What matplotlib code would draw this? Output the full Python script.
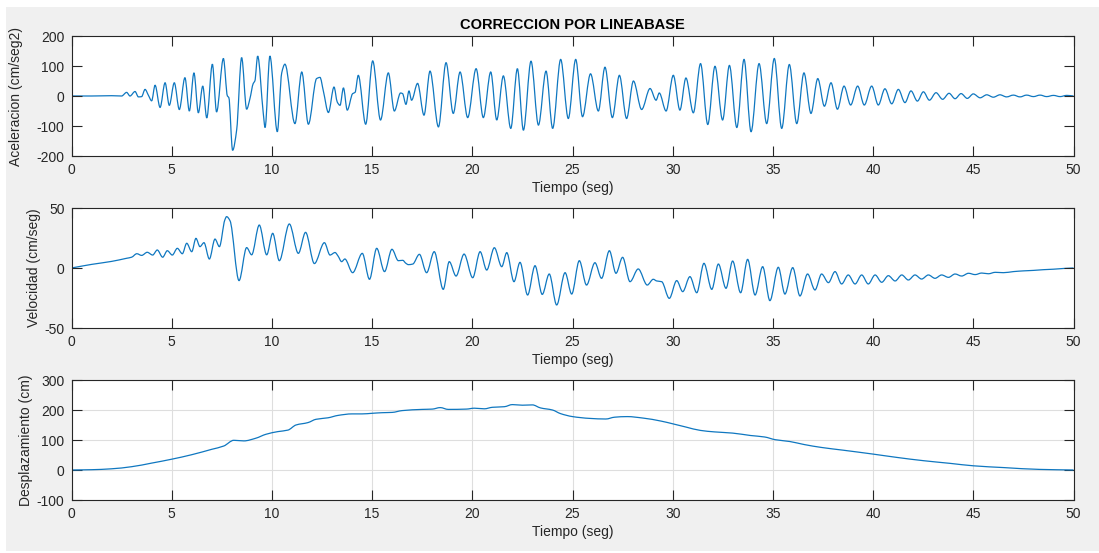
import numpy as np
import matplotlib.pyplot as plt
from matplotlib.patches import Rectangle, PathPatch
from matplotlib.path import Path

# (tiempo [s], aceleracion [cm/s2]) - picos y valles del registro corregido
acc_pts = [
    (0.0, 0), (1.0, 0), (2.0, 1), (2.5, 0), (2.75, 12), (2.92, 0), (3.17, 15), (3.34, -3),
    (3.5, -2), (3.67, 22), (3.84, 2), (4.0, -16), (4.17, 36), (4.42, -38), (4.67, 44),
    (4.88, -31), (5.13, 44), (5.38, -45), (5.66, 61), (5.88, -50), (6.11, 77), (6.33, -56),
    (6.55, 33), (6.75, -73), (7.03, 106), (7.24, -53), (7.58, 125), (7.78, 0), (7.85, -5),
    (8.04, -181), (8.24, -114), (8.49, 128), (8.74, -44), (8.9, -10), (9.07, 42), (9.15, 50),
    (9.29, 133), (9.57, -58), (9.66, -105), (9.9, 133), (10.27, -119), (10.49, 77),
    (10.65, 106), (11.15, -92), (11.49, 80), (11.82, -94), (12.23, 58), (12.4, 62),
    (12.57, 16), (12.82, -55), (13.1, 30), (13.26, -20), (13.4, -31), (13.57, 27),
    (13.76, -47), (14.03, 8), (14.15, 12), (14.31, 69), (14.68, -94), (15.03, 117),
    (15.42, -80), (15.81, 77), (16.11, -50), (16.42, 10), (16.52, 8), (16.69, -28),
    (16.84, 17), (16.97, -14), (17.27, 42), (17.59, -64), (17.89, 83), (18.31, -103),
    (18.69, 111), (19.05, -58), (19.39, 80), (19.77, -72), (20.19, 91), (20.55, -72),
    (20.92, 80), (21.22, -80), (21.55, 67), (21.92, -108), (22.25, 91), (22.55, -114),
    (22.93, 116), (23.3, -97), (23.68, 83), (24.01, -108), (24.41, 122), (24.79, -75),
    (25.16, 122), (25.5, -69), (25.9, 74), (26.29, -50), (26.62, 96), (26.99, -72),
    (27.34, 69), (27.7, -75), (28.04, 50), (28.45, -45), (28.87, 25), (29.17, -14),
    (29.33, 10), (29.67, -50), (30.03, 69), (30.36, -47), (30.66, 60), (31.03, -56),
    (31.39, 108), (31.75, -95), (32.11, 99), (32.49, -80), (32.83, 102), (33.2, -105),
    (33.56, 122), (33.91, -119), (34.31, 108), (34.69, -92), (35.07, 125), (35.44, -108),
    (35.82, 105), (36.19, -92), (36.55, 77), (36.9, -58), (37.24, 58), (37.57, -34),
    (37.9, 44), (38.22, -44), (38.55, 33), (38.88, -30), (39.23, 33), (39.56, -30),
    (39.93, 33), (40.26, -30), (40.59, 24), (40.93, -26), (41.26, 22), (41.59, -22),
    (41.89, 17), (42.21, -17), (42.51, 14), (42.81, -14), (43.14, 11), (43.47, -11),
    (43.79, 9), (44.09, -9), (44.39, 8), (44.7, -8), (45.0, 7), (45.34, -6), (45.67, 4),
    (46.0, -4), (46.33, 4), (46.66, -3), (47.0, 3), (47.33, -3), (47.66, 3), (48.0, -2),
    (48.33, 3), (48.66, -2), (49.0, 2), (49.33, -2), (49.66, 2), (50.0, 0),
]

# (tiempo [s], velocidad [cm/s])
vel_pts = [
    (0.0, 0), (1.0, 3), (2.0, 5.5), (2.75, 8.1), (3.0, 9), (3.26, 11.9), (3.5, 10.5),
    (3.78, 13.1), (4.05, 10.8), (4.28, 15), (4.55, 9), (4.78, 14.4), (5.03, 10.8),
    (5.28, 16.4), (5.53, 11.9), (5.75, 20.6), (6.0, 13.6), (6.21, 24.7), (6.41, 17.8),
    (6.61, 21.1), (6.88, 7.5), (7.16, 24.1), (7.38, 17.8), (7.65, 40), (7.74, 42.8),
    (7.91, 39.4), (8.36, -10.5), (8.74, 17), (8.99, 11), (9.37, 35.8), (9.74, 11),
    (10.04, 28.9), (10.37, 6.1), (10.87, 36.7), (11.32, 12.2), (11.68, 29.7), (12.12, 3.7),
    (12.62, 21.1), (12.9, 10.8), (13.15, 12.9), (13.3, 10), (13.48, 5.3), (13.64, 7.5),
    (14.03, -3.9), (14.51, 12.2), (14.87, -9.4), (15.23, 16.4), (15.62, -3), (15.99, 15.6),
    (16.31, 6.1), (16.53, 6.4), (16.68, 4), (16.81, 2.8), (17.03, 3.3), (17.36, 11.4),
    (17.72, -3.9), (18.1, 13.6), (18.55, -17.8), (18.85, 5.3), (19.19, -6.7), (19.59, 11.6),
    (20.02, -8.1), (20.39, 13.6), (20.72, -1.7), (21.1, 16.9), (21.47, 1.1), (21.72, 12.8),
    (22.08, -11.4), (22.38, 4.7), (22.76, -22.5), (23.13, 1.9), (23.49, -22), (23.84, -5),
    (24.21, -30.8), (24.63, -3.9), (24.96, -21.7), (25.34, 6.1), (25.7, -14.2),
    (26.12, 4.4), (26.45, -8.6), (26.84, 14.4), (27.17, -4.4), (27.5, 8.9), (27.87, -11.4),
    (28.28, -0.8), (28.73, -14.2), (29.03, -9.4), (29.2, -10.8), (29.45, -11.4),
    (29.83, -25.3), (30.2, -10.5), (30.5, -19.7), (30.86, -7.2), (31.2, -20.6), (31.56, 3.9),
    (31.95, -17.8), (32.28, 3.3), (32.66, -16.9), (32.99, 5.8), (33.39, -20.6), (33.74, 7.2),
    (34.11, -22.5), (34.49, 1.1), (34.85, -27.2), (35.27, 0.6), (35.6, -21.7), (35.99, 0.3),
    (36.35, -23.3), (36.73, -5.0), (37.1, -18.3), (37.43, -5), (37.77, -12.2), (38.1, -3),
    (38.43, -13.3), (38.76, -5.8), (39.1, -13.3), (39.43, -5.8), (39.76, -13.3),
    (40.1, -5.8), (40.43, -11.9), (40.76, -6.4), (41.1, -10.8), (41.43, -5.8), (41.76, -10),
    (42.09, -5.8), (42.42, -9.2), (42.76, -5.8), (43.09, -8.6), (43.42, -5.8), (43.76, -7.8),
    (44.09, -5), (44.42, -6.7), (44.76, -4.4), (45.09, -5.5), (45.42, -4.2), (45.75, -4.8),
    (46.1, -3.6), (46.5, -3.9), (47.0, -3.0), (47.5, -2.4), (48.0, -2.0), (48.5, -1.4),
    (49.0, -1.0), (49.5, -0.4), (50.0, 0),
]

# (tiempo [s], desplazamiento [cm])
dsp_pts = [
    (0.0, 0), (1.0, 1), (2.0, 4), (3.0, 11), (4.0, 23), (5.0, 36), (6.0, 51), (7.0, 69),
    (7.6, 80), (8.1, 99), (8.6, 97), (9.2, 106), (9.7, 119), (10.3, 128), (10.8, 133),
    (11.2, 150), (11.8, 158), (12.2, 169), (12.8, 174), (13.3, 182), (14.0, 187),
    (14.5, 187), (15.0, 189), (15.5, 191), (16.0, 192), (16.5, 198), (17.5, 202),
    (18.0, 203), (18.4, 208), (18.8, 202), (19.7, 203), (20.1, 206), (20.6, 204),
    (21.0, 209), (21.6, 211), (22.0, 218), (22.5, 216), (23.0, 217), (23.4, 207),
    (24.0, 200), (24.4, 188), (25.0, 178), (25.86, 172), (26.66, 170), (27.1, 176),
    (27.73, 178), (28.53, 173), (29.42, 163), (30.0, 154), (30.67, 143), (31.38, 132),
    (32.09, 127), (32.99, 123), (33.88, 115), (34.59, 110), (35.12, 101), (35.84, 95),
    (36.55, 85), (37.44, 75), (38.51, 66), (40.0, 53), (41.18, 42), (42.52, 31),
    (43.86, 22), (45.0, 14), (46.53, 8), (48.3, 2), (50.0, 0),
]

acc_t, acc = np.array(acc_pts, dtype=float).T
vel_t, vel = np.array(vel_pts, dtype=float).T
dsp_t, dsp = np.array(dsp_pts, dtype=float).T

x_ticks = [0, 5, 10, 15, 20, 25, 30, 35, 40, 45, 50]

LINE = '#0f77c0'
INK = '#262626'
plt.rcParams['font.family'] = ['Liberation Sans', 'DejaVu Sans']
plt.rcParams['font.size'] = 10
plt.rcParams['axes.unicode_minus'] = False


def smooth_path(t, y):
    """Curva suave (Hermite monotona) que pasa por todos los puntos dados."""
    h = np.diff(t)
    d = np.diff(y) / h
    m = np.zeros_like(y)
    m[0], m[-1] = d[0], d[-1]
    for k in range(1, len(y) - 1):
        if d[k - 1] * d[k] > 0:
            w1, w2 = 2 * h[k] + h[k - 1], h[k] + 2 * h[k - 1]
            m[k] = (w1 + w2) / (w1 / d[k - 1] + w2 / d[k])
    verts = [(t[0], y[0])]
    codes = [Path.MOVETO]
    for k in range(len(t) - 1):
        verts += [(t[k] + h[k] / 3, y[k] + m[k] * h[k] / 3),
                  (t[k + 1] - h[k] / 3, y[k + 1] - m[k + 1] * h[k] / 3),
                  (t[k + 1], y[k + 1])]
        codes += [Path.CURVE4] * 3
    return Path(verts, codes)


fig = plt.figure(figsize=(10.99, 5.53), dpi=100, facecolor='white')
# panel de fondo gris, por debajo de los ejes
fig.add_artist(Rectangle((6 / 1099, 2 / 553), 1093 / 1099, 544 / 553,
                         transform=fig.transFigure, facecolor='#f0f0f0',
                         edgecolor='none', zorder=-10))

left, width, height = 71.5 / 1099, 1002 / 1099, 120 / 553
# (base, t, y, ylim, yticks, etiqueta, posicion x de la etiqueta, rejilla)
panels = [
    (1 - 156 / 553, acc_t, acc, (-200, 200), [-200, -100, 0, 100, 200],
     'Aceleracion (cm/seg2)', -0.048, False),
    (1 - 328 / 553, vel_t, vel, (-50, 50), [-50, 0, 50], 'Velocidad (cm/seg)',
     -0.030, False),
    (1 - 500 / 553, dsp_t, dsp, (-100, 300), [-100, 0, 100, 200, 300],
     'Desplazamiento (cm)', -0.038, True),
]

axes = []
for bottom, t, y, ylim, yticks, ylabel, lx, grid in panels:
    ax = fig.add_axes([left, bottom, width, height])
    ax.add_patch(PathPatch(smooth_path(t, y), facecolor='none', edgecolor=LINE, lw=0.9))
    ax.set_xlim(0, 50)
    ax.set_ylim(*ylim)
    ax.set_xticks(x_ticks)
    ax.set_yticks(yticks)
    ax.set_xlabel('Tiempo (seg)', color=INK, labelpad=3)
    ax.set_ylabel(ylabel, color=INK)
    ax.yaxis.set_label_coords(lx, 0.5)
    ax.tick_params(direction='in', top=True, right=True, length=7, width=0.8,
                   colors=INK, labelsize=10, pad=5)
    for s in ax.spines.values():
        s.set_color(INK)
        s.set_linewidth(0.8)
    if grid:
        ax.grid(True, color='#dedede', lw=0.8)
        ax.set_axisbelow(True)
    axes.append(ax)

axes[0].set_title('CORRECCION POR LINEABASE', fontsize=10.5, fontweight='bold',
                  color='black', pad=5)

fig.savefig('out.png', dpi=100, facecolor=fig.get_facecolor())
